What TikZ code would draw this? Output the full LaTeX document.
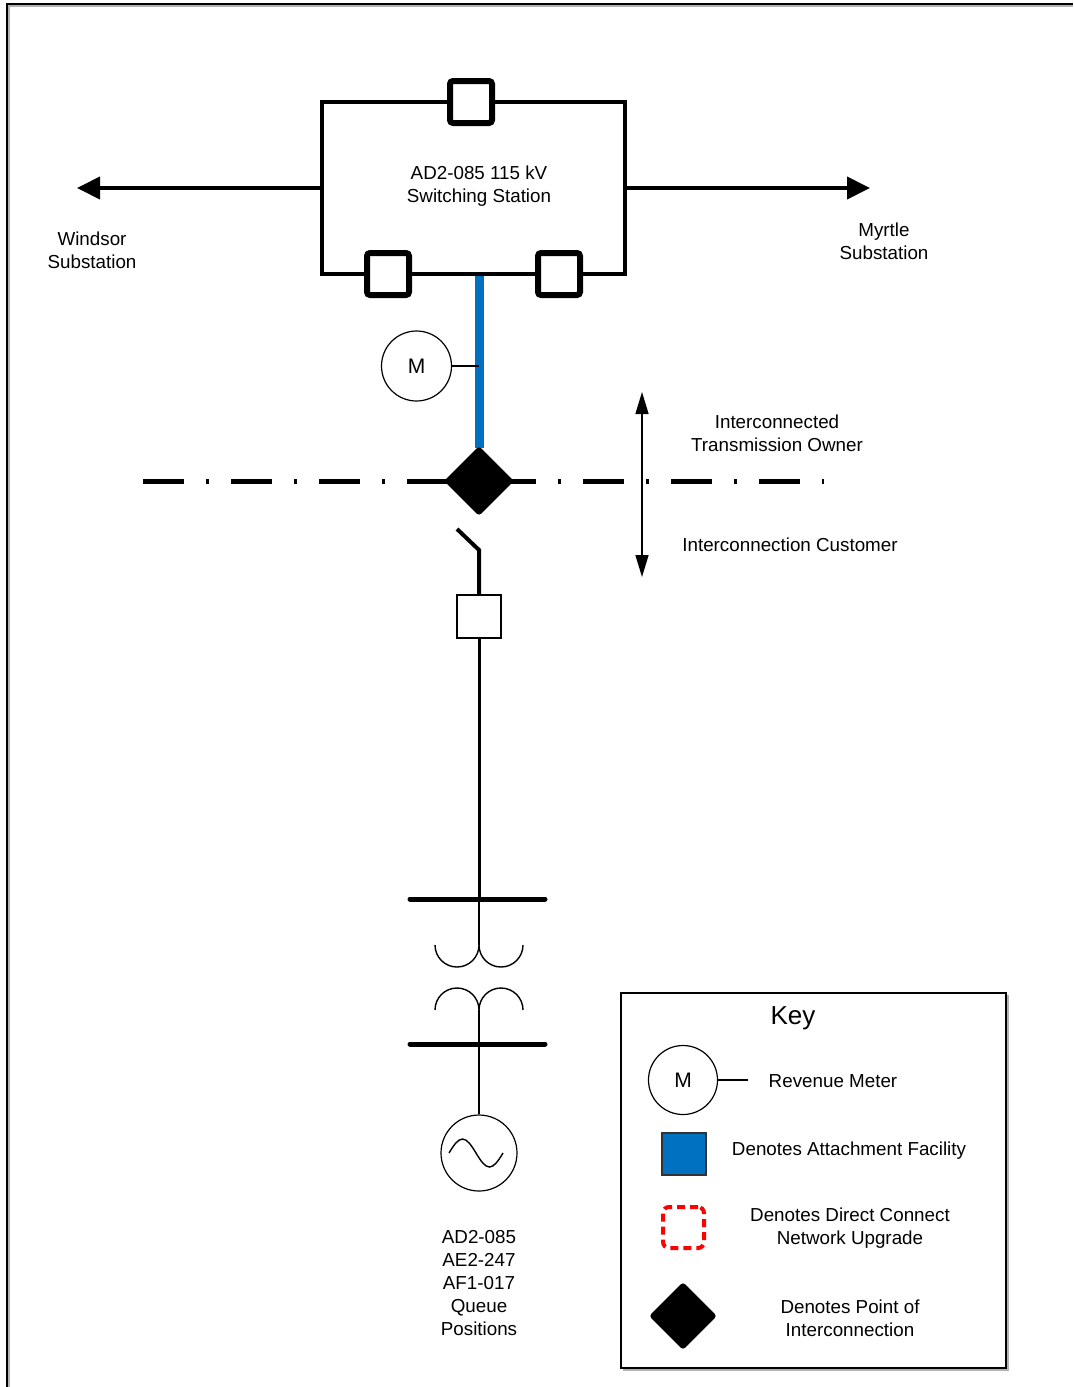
\documentclass[tikz,border=0pt]{standalone}
\usepackage{fontspec}
\setmainfont{Liberation Sans}
\usetikzlibrary{arrows.meta,shapes.geometric}

\definecolor{afblue}{RGB}{0,112,192}

\tikzset{
  brk/.style={draw,line width=3pt,fill=white,minimum size=21pt,inner sep=0pt,rounded corners=1.5pt},
  meter/.style={draw,circle,line width=0.6pt,minimum size=35pt,inner sep=0pt,font=\fontsize{10.5}{12}\selectfont},
  poi/.style={diamond,fill=black,minimum size=35pt,inner sep=0pt,rounded corners=1.5pt},
  lbl/.style={align=center,inner sep=0pt},
  bus/.style={line width=2.5pt,line cap=round},
  wire/.style={line width=0.7pt},
}

\begin{document}
\begin{tikzpicture}[x=0.5pt,y=-0.5pt,every node/.style={font=\fontsize{9.4}{11.5}\selectfont}]
        \useasboundingbox (0,0) rectangle (1073,1387);
        \draw [gray!60,line width=1pt] (9,1387)--(9,6)--(1073,6);
        \draw [black,line width=1pt] (7,1387)--(7,4)--(1073,4);

        % switching station
        \coordinate (tap) at (479,274);
        \draw [afblue,line width=4.5pt] (tap)--(479,448);
        \node [draw,line width=2pt,minimum width=151.5pt,minimum height=86pt] (sta) at (473.5,188) {};
        \node [lbl] (stalbl) at (479,186) {AD2-085 115 kV\\Switching Station};
        \node [brk] (brkt) at (471,102) {};
        \node [brk] (brkl) at (388,274) {};
        \node [brk] (brkr) at (559,274) {};
        \coordinate (wnd) at (77,188);
        \coordinate (myr) at (870,188);
        \draw [black,line width=2pt,-{Triangle[length=11.5pt,width=11pt]}] (sta.west)--(wnd);
        \draw [black,line width=2pt,-{Triangle[length=11.5pt,width=11pt]}] (sta.east)--(myr);
        \node [lbl] (wndlbl) at (92,250) {Windsor\\Substation};
        \node [lbl] (myrlbl) at (884,241) {Myrtle\\Substation};

        % point of interconnection
        \coordinate (pl) at (143,481);
        \coordinate (pr) at (824,481);
        \draw [black,line width=2.5pt,dash pattern=on 20.5pt off 11pt on 1.5pt off 11pt] (pl)--(pr);
        \node [poi] (poi) at (479,481) {};
        \node [meter] (m) at (416.5,366) {M};
        \draw [wire] (m.east)--(m.east -| tap);
        \coordinate (ownt) at (642,392);
        \coordinate (ownb) at (642,577);
        \draw [black,line width=0.75pt,{Triangle[length=11pt,width=6.5pt]}-{Triangle[length=11pt,width=6.5pt]}] (ownt)--(ownb);
        \node [lbl] (tolbl) at (777,433) {Interconnected\\Transmission Owner};
        \node [lbl] (iclbl) at (790,545) {Interconnection Customer};

        % customer side
        \coordinate (swtop) at (457,529);
        \coordinate (swpiv) at (479,550);
        \node [draw,line width=1pt,minimum width=22pt,minimum height=21.5pt,inner sep=0pt] (cb) at (479,616.5) {};
        \draw [black,line width=2pt] (swtop)--(swpiv)--(cb.north);
        \coordinate (bus1) at (479,899);
        \coordinate (bus2) at (479,1044);
        \draw [black,line width=1.5pt] (cb.south)--(bus1);
        \draw [bus] (410,899)--(545,899);
        \draw [bus] (410,1044)--(545,1044);
        \draw [wire] (bus1)--(479,945);
        \draw [wire] (435,945) arc[start angle=180,end angle=0,radius=22] arc[start angle=180,end angle=0,radius=22];
        \draw [wire] (435,1010) arc[start angle=180,end angle=360,radius=22] arc[start angle=180,end angle=360,radius=22];
        \node [draw,circle,line width=0.6pt,minimum size=38pt,inner sep=0pt] (gen) at (479,1153) {};
        \draw [wire] (479,1010)--(gen.north);
        \draw [wire] (449,1153) sin (462.5,1139) cos (476,1153) sin (489.5,1167) cos (503,1153);
        \node [lbl] (genlbl) at (479,1283) {AD2-085\\AE2-247\\AF1-017\\Queue\\Positions};

        % key
        \draw [gray!60,line width=1pt] (623,1370)-|(1008,995);
        \node [draw,line width=1pt,minimum width=192.5pt,minimum height=187.5pt] (key) at (813.5,1180.5) {};
        \node [font=\fontsize{13}{15}\selectfont] (keyttl) at (793,1018) {Key};
        \node [meter,minimum size=34.5pt] (km) at (683,1080) {M};
        \coordinate (kmend) at (748,1080);
        \draw [wire] (km.east)--(kmend);
        \node [lbl] (kmlbl) at (833,1081) {Revenue Meter};
        \node [draw=black!80,fill=afblue,line width=0.6pt,minimum width=22pt,minimum height=21pt,inner sep=0pt] (kaf) at (684,1154) {};
        \node [lbl] (kaflbl) at (849,1151) {Denotes Attachment Facility};
        \node [draw=red,line width=2pt,dash pattern=on 4pt off 2.5pt,rounded corners=3pt,minimum size=20.5pt,inner sep=0pt] (knu) at (683.5,1227.5) {};
        \node [lbl] (knulbl) at (850,1228) {Denotes Direct Connect\\Network Upgrade};
        \node [poi,minimum size=34pt] (kpoi) at (683,1316) {};
        \node [lbl] (kpoilbl) at (850,1318.5) {Denotes Point of\\Interconnection};
    \end{tikzpicture}
\end{document}
